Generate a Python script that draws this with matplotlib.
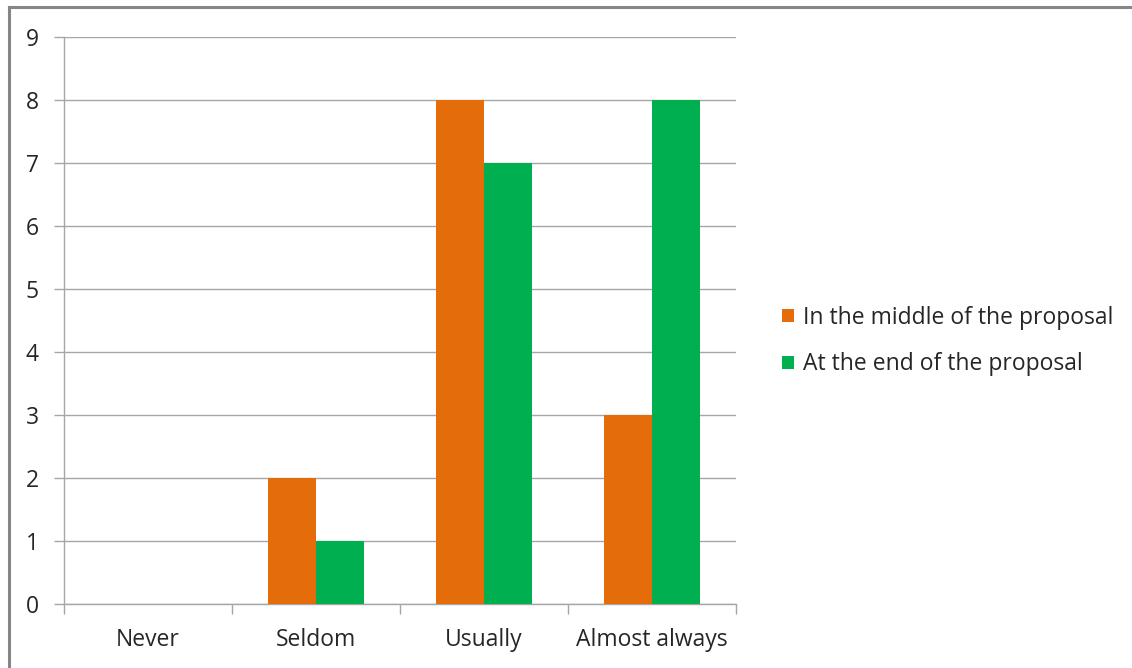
import matplotlib
matplotlib.use("Agg")
import matplotlib.pyplot as plt
from matplotlib.patches import Patch
from matplotlib.lines import Line2D
import numpy as np

categories = ["Never", "Seldom", "Usually", "Almost always"]
middle = [0, 2, 8, 3]
end = [0, 1, 7, 8]
series_names = ["In the middle of the proposal", "At the end of the proposal"]
colors = ["#E46C0A", "#00B050"]
yticks = list(range(0, 10))

W, H = 1132, 668
plt.rcParams["font.family"] = ["Open Sans", "DejaVu Sans"]
fig = plt.figure(figsize=(W / 100, H / 100), dpi=100)
FS = 16.5
TXT = "#262626"
GRID = "#A6A6A6"

ax = fig.add_axes([64 / W, 1 - 604 / H, (736 - 64) / W, (604 - 37) / H])
x = np.arange(len(categories))
bw = 48 / 168
ax.bar(x - bw / 2, middle, width=bw, color=colors[0], zorder=3)
ax.bar(x + bw / 2, end, width=bw, color=colors[1], zorder=3)

ax.set_xlim(-0.5, len(categories) - 0.5)
ax.set_ylim(0, 9)
ax.set_yticks(yticks)
ax.set_yticklabels([str(t) for t in yticks], fontsize=FS, color=TXT)
ax.yaxis.grid(True, color=GRID, lw=1, zorder=0)
ax.set_axisbelow(True)

# category boundaries for tick marks
ax.set_xticks(np.arange(-0.5, len(categories) + 0.5, 1.0))
ax.set_xticklabels([])
ax.set_xticks(x, minor=True)
ax.set_xticklabels(categories, minor=True, fontsize=FS, color=TXT)
ax.tick_params(axis="x", which="minor", length=0, pad=17)
ax.tick_params(axis="x", which="major", length=7, color=GRID, width=1)
ax.tick_params(axis="y", length=7, color=GRID, width=1, pad=11)

for s in ["top", "right"]:
    ax.spines[s].set_visible(False)
for s in ["left", "bottom"]:
    ax.spines[s].set_color(GRID)
    ax.spines[s].set_linewidth(1)

handles = [Patch(facecolor=c, edgecolor="none") for c in colors]
fig.legend(handles, series_names, loc="center left",
           bbox_to_anchor=(761 / W, 1 - 341 / H), frameon=False,
           fontsize=FS, handlelength=0.52, handleheight=0.52,
           handletextpad=0.4, labelspacing=1.0, labelcolor=TXT)

# outer border (top and left only)
fig.add_artist(Line2D([8.5 / W, 1], [1 - 7 / H, 1 - 7 / H], transform=fig.transFigure,
                      color="#868686", lw=2.2))
fig.add_artist(Line2D([8.5 / W, 8.5 / W], [0, 1 - 7 / H], transform=fig.transFigure,
                      color="#868686", lw=2.2))

fig.savefig("out.png", dpi=100)
